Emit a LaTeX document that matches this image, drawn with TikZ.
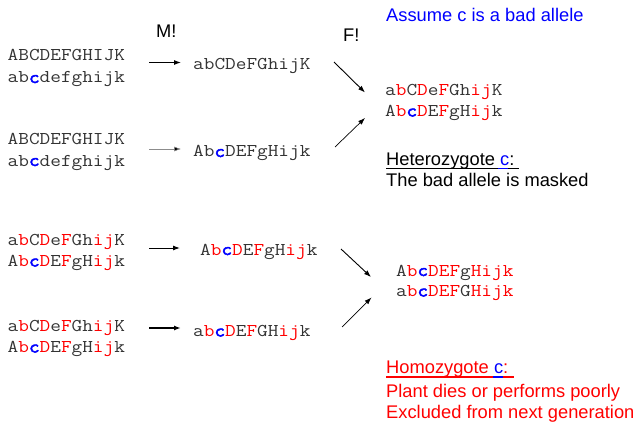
\documentclass[tikz,border=0pt]{standalone}
\usepackage{fontspec}
\setmainfont{Liberation Sans}
\newfontfamily\cour{Latin Modern Mono}[FakeStretch=1.15,BoldFont={Latin Modern Mono},BoldFeatures={FakeBold=2.5}]
\usetikzlibrary{arrows.meta}
\definecolor{gr}{RGB}{51,51,51}
\definecolor{rd}{RGB}{255,0,0}
\definecolor{bl}{RGB}{0,0,255}
\newcommand\rr[1]{\textcolor{rd}{#1}}
\newcommand\bc{\textcolor{bl}{\textbf{c}}}
\begin{document}
\begin{tikzpicture}[x=1pt,y=-1pt,
  mono/.style={anchor=base west,inner sep=0,font=\fontsize{18}{20}\cour,text=gr},
  sans/.style={anchor=base west,inner sep=0,font=\fontsize{18.3}{21}\selectfont},
  arr/.style={-{Latex[length=7pt,width=5pt]},line width=1pt,black},
  farr/.style={-{Latex[length=7pt,width=5pt]},line width=0.9pt,black}]
\useasboundingbox (0,0) rectangle (637,425);
% labels
\node[sans] (M) at (156,38) {M!};
\node[sans] (F) at (343,41.5) {F!};
\node[sans,text=bl] (assume) at (386,21.5) {Assume c is a bad allele};
% top parents
\node[mono] (p1a) at (7.5,61) {ABCDEFGHIJK};
\node[mono] (p1b) at (7.5,83) {ab\bc defghijk};
\node[mono] (p2a) at (7.5,144) {ABCDEFGHIJK};
\node[mono] (p2b) at (7.5,166) {ab\bc defghijk};
% top gametes
\node[mono] (g1) at (193,70) {abCDeFGhijK};
\node[mono] (g2) at (193,157) {Ab\bc DEFgHijk};
% top offspring
\node[mono] (h1) at (385,95.5) {a\rr{b}C\rr{D}e\rr{F}Gh\rr{ij}K};
\node[mono] (h2) at (385,116.5) {A\rr{b}\bc\rr{D}E\rr{F}gH\rr{ij}k};
\node[sans] (het) at (386,165) {Heterozygote \textcolor{bl}{c}:};
\node[sans] (mask) at (386,186) {The bad allele is masked};
\draw[line width=1.3pt,black] (386,168.3) -- (519,168.3);
\draw[line width=1.3pt,bl] (498,168.3) -- (507.5,168.3);
% bottom parents
\node[mono] (p3a) at (7.5,245) {a\rr{b}C\rr{D}e\rr{F}Gh\rr{ij}K};
\node[mono] (p3b) at (7.5,266.5) {A\rr{b}\bc\rr{D}E\rr{F}gH\rr{ij}k};
\node[mono] (p4a) at (7.5,331) {a\rr{b}C\rr{D}e\rr{F}Gh\rr{ij}K};
\node[mono] (p4b) at (7.5,352.5) {A\rr{b}\bc\rr{D}E\rr{F}gH\rr{ij}k};
% bottom gametes
\node[mono] (g3) at (200,255) {A\rr{b}\bc\rr{D}E\rr{F}gH\rr{ij}k};
\node[mono] (g4) at (193,336.5) {a\rr{b}\bc\rr{D}E\rr{F}GH\rr{ij}k};
% bottom offspring
\node[mono] (o1) at (396,276) {A\rr{b}\bc\rr{DEF}g\rr{Hijk}};
\node[mono] (o2) at (396,296.5) {a\rr{b}\bc\rr{DEF}G\rr{Hijk}};
\node[sans,text=rd] (homo) at (386,373) {Homozygote \textcolor{bl}{c}:};
\node[sans,text=rd] (dies) at (386,397) {Plant dies or performs poorly};
\node[sans,text=rd] (excl) at (386,418) {Excluded from next generation};
\draw[line width=1.3pt,rd] (386,377) -- (514,377);
\draw[line width=1.3pt,bl] (493,377) -- (502.5,377);
% arrow coordinates
\coordinate (a1s) at (149,62.5);  \coordinate (a1e) at (181,62.5);
\coordinate (a2s) at (149,149);   \coordinate (a2e) at (181,149);
\coordinate (a3s) at (149,248);   \coordinate (a3e) at (180,248);
\coordinate (a4s) at (149,328);   \coordinate (a4e) at (181,328);
\coordinate (f1s) at (334,62);    \coordinate (f1e) at (365,92.5);
\coordinate (f2s) at (335,147);   \coordinate (f2e) at (365,118);
\coordinate (f3s) at (341,249);   \coordinate (f3e) at (371,277);
\coordinate (f4s) at (342,327);   \coordinate (f4e) at (371.5,297.5);
\draw[arr] (a1s) -- (a1e);
\draw[arr,draw=black!45,line width=0.5pt,-{Latex[length=7pt,width=5pt,fill=black]}] (a2s) -- (a2e);
\draw[arr] (a3s) -- (a3e);
\draw[arr,line width=1.9pt] (a4s) -- (a4e);
\draw[farr] (f1s) -- (f1e);
\draw[farr,line width=0.7pt] (f2s) -- (f2e);
\draw[farr] (f3s) -- (f3e);
\draw[farr,line width=0.7pt] (f4s) -- (f4e);
\end{tikzpicture}
\end{document}
